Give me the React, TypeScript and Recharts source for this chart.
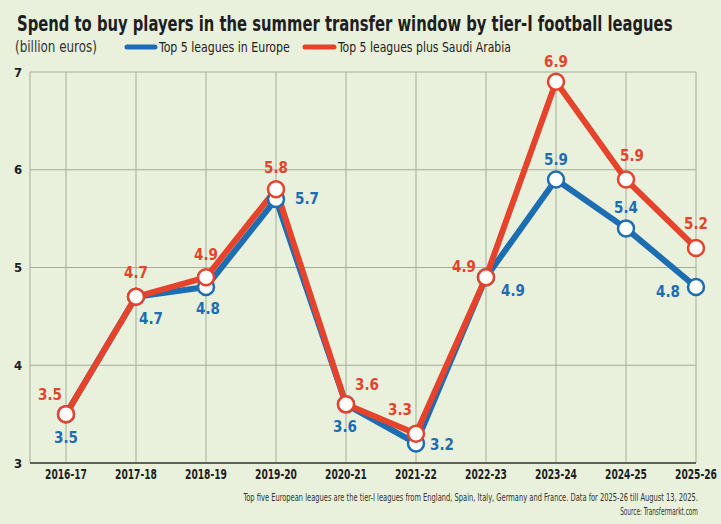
import { CartesianGrid, LabelList, Line, LineChart, XAxis, YAxis } from "recharts";

const seasons = [
  "2016-17",
  "2017-18",
  "2018-19",
  "2019-20",
  "2020-21",
  "2021-22",
  "2022-23",
  "2023-24",
  "2024-25",
  "2025-26",
];
const top5Europe = [3.5, 4.7, 4.8, 5.7, 3.6, 3.2, 4.9, 5.9, 5.4, 4.8];
const top5PlusSaudi = [3.5, 4.7, 4.9, 5.8, 3.6, 3.3, 4.9, 6.9, 5.9, 5.2];
const yTicks = [3, 4, 5, 6, 7];

const rows = seasons.map((season, i) => ({
  season,
  europe: top5Europe[i],
  saudi: top5PlusSaudi[i],
}));

const COLORS = {
  bg: "#E9F0DB",
  blue: "#1D6DB3",
  red: "#E5432C",
  grid: "#A3AD9C",
  axis: "#5E625B",
  text: "#1E1E1E",
};

const FONT = "'DejaVu Sans Condensed', 'DejaVu Sans', sans-serif";

// where each value label sits relative to its point (dx, dy)
const europeLabelNudge = [
  [0, 24], [15, 22], [2, 22], [31, 0], [-1, 23],
  [26, 2], [27, 14], [0, -20], [0, -20], [-28, 5],
];
const saudiLabelNudge = [
  [-16, -19], [0, -24], [0, -22], [0, -21], [21, -19],
  [-16, -24], [-22, -10], [0, -20], [6, -24], [0, -24],
];

let measureCtx: CanvasRenderingContext2D | null = null;
function measure(text: string, size: number, weight: string) {
  if (!measureCtx) measureCtx = document.createElement("canvas").getContext("2d");
  if (!measureCtx) return text.length * size * 0.5;
  measureCtx.font = `${weight} ${size}px ${FONT}`;
  return measureCtx.measureText(text).width;
}

// condensed text squeezed horizontally to a given width
function NarrowText({
  x,
  y,
  width,
  size,
  weight = "normal",
  fill,
  anchor = "start",
  children,
}: {
  x: number;
  y: number;
  width: number;
  size: number;
  weight?: string;
  fill: string;
  anchor?: "start" | "middle" | "end";
  children: string;
}) {
  const natural = measure(children, size, weight);
  const sx = natural > 0 ? width / natural : 1;
  return (
    <text
      transform={`translate(${x},${y}) scale(${sx.toFixed(4)},1)`}
      textAnchor={anchor}
      fontFamily={FONT}
      fontWeight={weight}
      fontSize={size}
      fill={fill}
    >
      {children}
    </text>
  );
}

function valueLabel(nudge: number[][], color: string) {
  return (props: any) => {
    const { x, y, value, index } = props;
    const [dx, dy] = nudge[index] ?? [0, -20];
    return (
      <text
        x={x + dx}
        y={y + dy}
        textAnchor="middle"
        dominantBaseline="central"
        fill={color}
        fontFamily={FONT}
        fontWeight="bold"
        fontSize={15}
      >
        {Number(value).toFixed(1)}
      </text>
    );
  };
}

function SeasonTick(props: any) {
  const { x, y, payload } = props;
  return (
    <NarrowText x={x} y={y + 14} width={42} size={14} weight="bold" fill={COLORS.text} anchor="middle">
      {payload.value}
    </NarrowText>
  );
}

function ValueTick(props: any) {
  const { y, payload } = props;
  return (
    <text
      x={18}
      y={y}
      textAnchor="middle"
      dominantBaseline="central"
      fill={COLORS.text}
      fontFamily={FONT}
      fontWeight="bold"
      fontSize={13}
    >
      {payload.value}
    </text>
  );
}

function Header() {
  return (
    <svg
      width={721}
      height={524}
      style={{ position: "absolute", left: 0, top: 0, pointerEvents: "none" }}
    >
      <NarrowText x={17} y={31} width={656} size={22} weight="bold" fill={COLORS.text}>
        Spend to buy players in the summer transfer window by tier-I football leagues
      </NarrowText>
      <NarrowText x={15} y={52} width={82} size={15} fill="#333">
        (billion euros)
      </NarrowText>
      <line x1={127} y1={47} x2={155} y2={47} stroke={COLORS.blue} strokeWidth={5} strokeLinecap="round" />
      <NarrowText x={159} y={52} width={131} size={14} fill="#222">
        Top 5 leagues in Europe
      </NarrowText>
      <line x1={305} y1={47} x2={334} y2={47} stroke={COLORS.red} strokeWidth={5} strokeLinecap="round" />
      <NarrowText x={338} y={52} width={173} size={14} fill="#222">
        Top 5 leagues plus Saudi Arabia
      </NarrowText>
      <NarrowText x={698} y={501} width={455} size={10} fill="#333" anchor="end">
        Top five European leagues are the tier-I leagues from England, Spain, Italy, Germany and France. Data for 2025-26 till August 13, 2025.
      </NarrowText>
      <NarrowText x={698} y={515} width={78} size={10} fill="#333" anchor="end">
        Source: Transfermarkt.com
      </NarrowText>
    </svg>
  );
}

export default function App() {
  return (
    <div
      style={{
        position: "absolute",
        left: 0,
        top: 0,
        width: 721,
        height: 524,
        background: COLORS.bg,
        overflow: "hidden",
      }}
    >
      <LineChart
        width={721}
        height={524}
        data={rows}
        margin={{ top: 72, right: 25, left: 0, bottom: 31 }}
      >
        <CartesianGrid stroke={COLORS.grid} strokeWidth={1} />
        <XAxis
          dataKey="season"
          height={30}
          padding={{ left: 36, right: 0 }}
          tickLine={false}
          tickSize={0}
          axisLine={{ stroke: COLORS.axis, strokeWidth: 2 }}
          tick={<SeasonTick />}
          interval={0}
        />
        <YAxis
          width={30}
          domain={[3, 7]}
          ticks={yTicks}
          axisLine={false}
          tickLine={false}
          tick={<ValueTick />}
        />
        <Line
          dataKey="europe"
          stroke={COLORS.blue}
          strokeWidth={6}
          strokeLinejoin="round"
          dot={{ r: 8, fill: "#fff", stroke: COLORS.blue, strokeWidth: 2.5 }}
          activeDot={false}
          isAnimationActive={false}
        >
          <LabelList dataKey="europe" content={valueLabel(europeLabelNudge, COLORS.blue)} />
        </Line>
        <Line
          dataKey="saudi"
          stroke={COLORS.red}
          strokeWidth={6}
          strokeLinejoin="round"
          dot={{ r: 8, fill: "#fff", stroke: COLORS.red, strokeWidth: 2.5 }}
          activeDot={false}
          isAnimationActive={false}
        >
          <LabelList dataKey="saudi" content={valueLabel(saudiLabelNudge, COLORS.red)} />
        </Line>
      </LineChart>
      <Header />
    </div>
  );
}
